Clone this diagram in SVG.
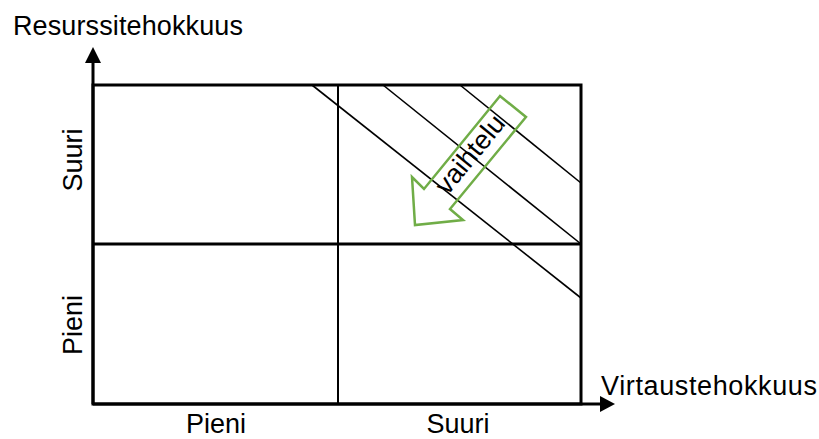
<svg xmlns="http://www.w3.org/2000/svg" width="819" height="439" viewBox="0 0 819 439">
<style>
text{font-family:"Liberation Sans",Arial,sans-serif;font-size:27px;fill:#000}
.frame{fill:none;stroke:#000;stroke-width:3}
.thin{stroke:#000;stroke-width:2;fill:none}
.diag{stroke:#000;stroke-width:1.6;fill:none}
</style>
<rect width="819" height="439" fill="#fff"/>
<g id="grid">
<rect class="frame" x="93" y="85" width="488" height="319"/>
<line class="frame" x1="93" y1="244" x2="581" y2="244"/>
<line class="thin" x1="338" y1="85" x2="338" y2="404"/>
</g>
<g id="axes">
<line class="frame" x1="93" y1="404" x2="93" y2="62"/>
<polygon points="93,47 85,63 101,63" fill="#000"/>
<line class="frame" x1="93" y1="404" x2="601" y2="404" stroke-width="4"/>
<polygon points="615,404 600,396 600,412" fill="#000"/>
</g>
<g id="connectors">
<line class="diag" x1="312" y1="85" x2="581" y2="298"/>
<line class="diag" x1="383" y1="85" x2="581" y2="244"/>
<line class="diag" x1="460" y1="85" x2="581" y2="183"/>
</g>
<g id="vaihtelu">
<polygon points="500,96 424,189 412,177 415,225 463,220 450,209 526,117" fill="none" stroke="#70AD47" stroke-width="2.5"/>
<text x="477" y="160" text-anchor="middle" font-size="28" transform="rotate(-50.7 477 160)">vaihtelu</text>
</g>
<g id="labels">
<text x="13" y="35" textLength="230">Resurssitehokkuus</text>
<text x="601" y="395" textLength="216">Virtaustehokkuus</text>
<text x="216" y="433" text-anchor="middle" font-size="25">Pieni</text>
<text x="458" y="433" text-anchor="middle" font-size="25">Suuri</text>
<text x="82" y="160" text-anchor="middle" transform="rotate(-90 82 160)">Suuri</text>
<text x="82" y="325" text-anchor="middle" transform="rotate(-90 82 325)">Pieni</text>
</g>
</svg>
